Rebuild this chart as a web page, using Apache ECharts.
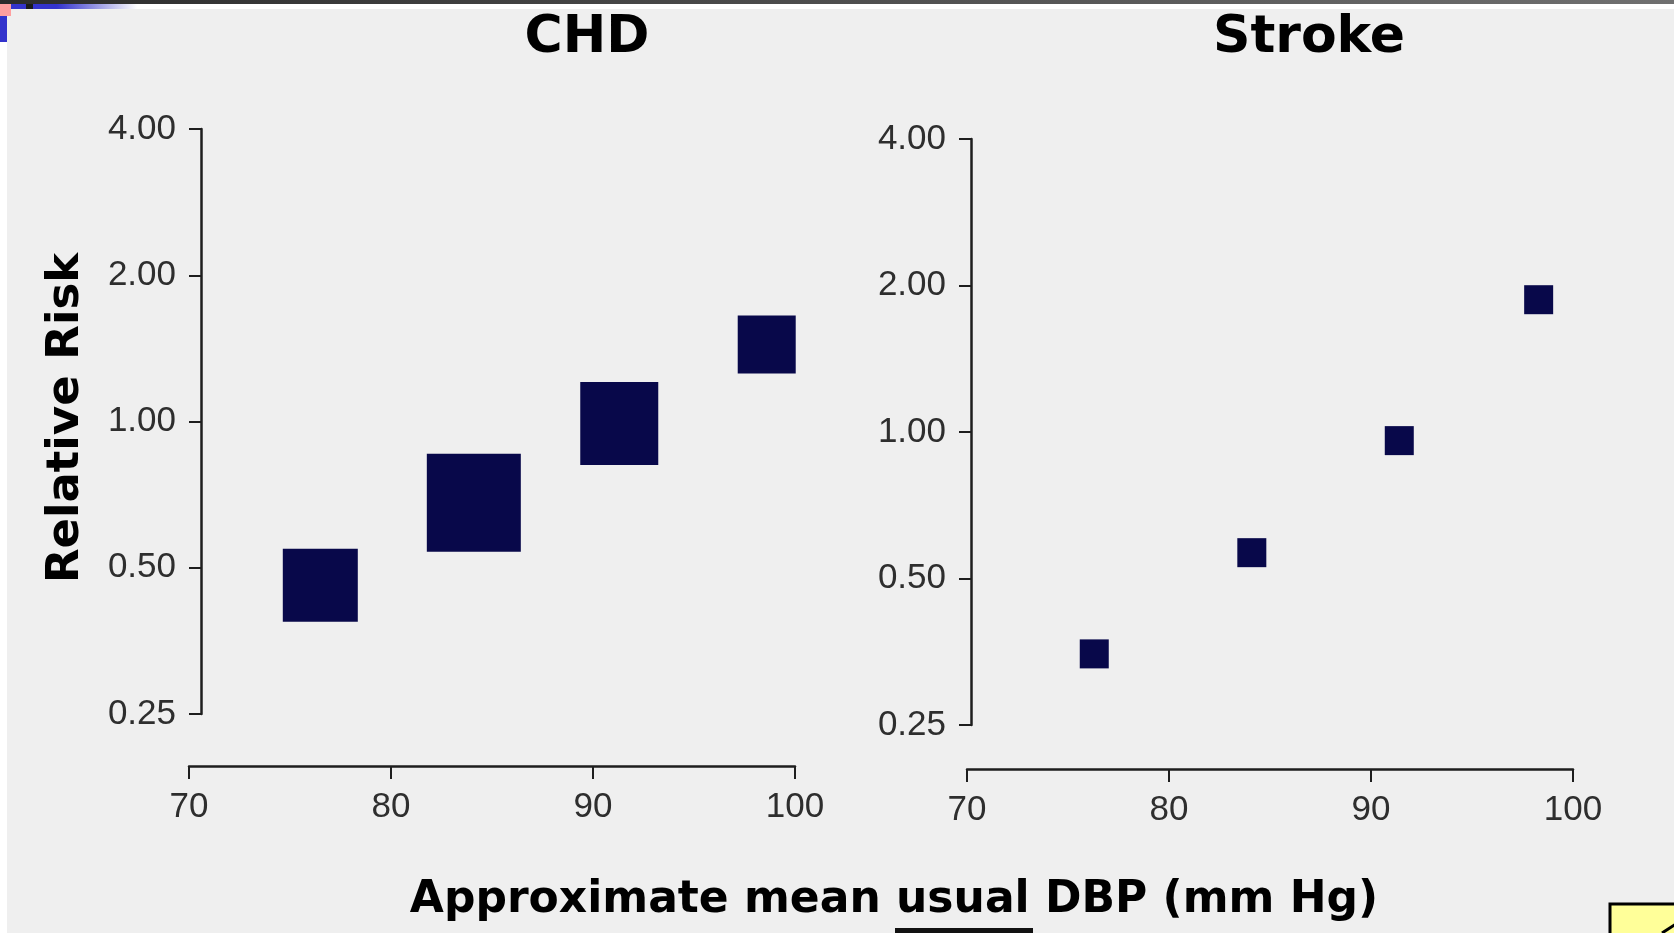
<!DOCTYPE html>
<html><head><meta charset="utf-8">
<script src="https://cdn.jsdelivr.net/npm/echarts@6/dist/echarts.min.js"></script>
<style>html,body{margin:0;padding:0;background:#fff}#c{width:1674px;height:933px}</style>
</head><body><div id="c"></div>
<script>
// ---- data ----
const xTicks = [70, 80, 90, 100];
const yTicks = [0.25, 0.5, 1, 2, 4];
const chdDBP = [76.5, 84.1, 91.3, 98.6];
const chdRR = [0.46, 0.68, 0.99, 1.44];
const strokeDBP = [76.3, 84.1, 91.4, 98.3];
const strokeRR = [0.35, 0.565, 0.96, 1.87];
const panelTitles = ['CHD', 'Stroke'];
const yName = 'Relative Risk';
const xName = 'Approximate mean usual DBP (mm Hg)';

// ---- styles ----
const chdBox = [[75, 73], [94, 98], [78, 83], [58, 58]];
const strokeBox = 29;
const markColor = '#08084a';
const axisColor = '#1e1e1e';
const labelFont = {fontFamily: '"Liberation Sans", Arial, sans-serif', fontSize: 35, color: '#2e2e2e'};

const chart = echarts.init(document.getElementById('c'), null, {renderer: 'canvas'});

function xAx(gi, off) {
  return {
    gridIndex: gi, type: 'value', min: xTicks[0], max: xTicks[xTicks.length - 1], interval: 10,
    offset: off, position: 'bottom',
    axisLine: {show: true, lineStyle: {color: axisColor, width: 2.5}},
    axisTick: {show: true, length: 13, lineStyle: {color: axisColor, width: 2}},
    axisLabel: Object.assign({margin: 24, showMinLabel: true, showMaxLabel: true,
      formatter: v => xTicks.includes(Math.round(v)) ? String(Math.round(v)) : ''}, labelFont),
    splitLine: {show: false}
  };
}
function yAx(gi, off) {
  return {
    gridIndex: gi, type: 'log', logBase: 2, min: yTicks[0], max: yTicks[yTicks.length - 1],
    offset: off, position: 'left',
    axisLine: {show: true, lineStyle: {color: axisColor, width: 2.5}},
    axisTick: {show: true, length: 12, lineStyle: {color: axisColor, width: 2}},
    axisLabel: Object.assign({margin: 25, showMinLabel: true, showMaxLabel: true,
      formatter: v => Number(v).toFixed(2)}, labelFont),
    splitLine: {show: false}, minorTick: {show: false}
  };
}

const option = {
  backgroundColor: '#efefef',
  animation: false,
  grid: [
    {left: 189, top: 129, width: 606, height: 585},
    {left: 967, top: 139, width: 606, height: 586}
  ],
  xAxis: [xAx(0, 52), xAx(1, 44)],
  yAxis: [yAx(0, -12), yAx(1, -4)],
  series: [
    {type: 'scatter', xAxisIndex: 0, yAxisIndex: 0, symbol: 'rect', clip: false,
      itemStyle: {color: markColor, opacity: 1},
      data: chdDBP.map((x, i) => ({value: [x, chdRR[i]], symbolSize: chdBox[i]}))},
    {type: 'scatter', xAxisIndex: 1, yAxisIndex: 1, symbol: 'rect', clip: false,
      symbolSize: strokeBox, itemStyle: {color: markColor, opacity: 1},
      data: strokeDBP.map((x, i) => [x, strokeRR[i]])}
  ],
  graphic: [
    // slide frame decorations
    {type: 'rect', shape: {x: 0, y: 0, width: 1674, height: 9}, style: {fill: '#ffffff'}, silent: true},
    {type: 'rect', shape: {x: 0, y: 0, width: 7, height: 933}, style: {fill: '#ffffff'}, silent: true},
    {type: 'rect', shape: {x: 0, y: 0, width: 1674, height: 4}, silent: true,
      style: {fill: new echarts.graphic.LinearGradient(0, 0, 1, 0, [{offset: 0, color: '#2c2c2c'}, {offset: 1, color: '#707070'}])}},
    {type: 'rect', shape: {x: 0, y: 4, width: 11, height: 12}, style: {fill: '#ff9f9f'}, silent: true},
    {type: 'rect', shape: {x: 0, y: 16, width: 7, height: 26}, style: {fill: '#3333cc'}, silent: true},
    {type: 'rect', shape: {x: 11, y: 4, width: 15, height: 5}, style: {fill: '#3333cc'}, silent: true},
    {type: 'rect', shape: {x: 26, y: 4, width: 7, height: 5}, style: {fill: '#1a1a1a'}, silent: true},
    {type: 'rect', shape: {x: 33, y: 4, width: 24, height: 5}, style: {fill: '#3333cc'}, silent: true},
    {type: 'rect', shape: {x: 57, y: 4, width: 80, height: 5}, silent: true,
      style: {fill: new echarts.graphic.LinearGradient(0, 0, 1, 0, [{offset: 0, color: '#3333cc'}, {offset: 1, color: '#ffffff'}])}},
    {type: 'rect', shape: {x: 1610, y: 904, width: 80, height: 60}, style: {fill: '#ffff99', stroke: '#000', lineWidth: 3}, silent: true},
    {type: 'line', shape: {x1: 1662, y1: 933, x2: 1676, y2: 924}, style: {stroke: '#000', lineWidth: 3}, silent: true},
    {type: 'rect', shape: {x: 895, y: 928, width: 138, height: 5}, style: {fill: '#111'}, silent: true},
    // texts
    {type: 'text', x: 587, y: 38, silent: true,
      style: {text: panelTitles[0], align: 'center', verticalAlign: 'middle', font: 'bold 52px "DejaVu Sans"', fill: '#000'}},
    {type: 'text', x: 1309, y: 38, silent: true,
      style: {text: panelTitles[1], align: 'center', verticalAlign: 'middle', font: 'bold 52px "DejaVu Sans"', fill: '#000'}},
    {type: 'text', x: 66, y: 418, rotation: Math.PI / 2, silent: true,
      style: {text: yName, align: 'center', verticalAlign: 'middle', font: 'bold 45px "DejaVu Sans"', fill: '#000'}},
    {type: 'text', x: 894, y: 901, silent: true,
      style: {text: xName, align: 'center', verticalAlign: 'middle', font: 'bold 44px "DejaVu Sans"', fill: '#000'}}
  ]
};
chart.setOption(option);
</script>
</body></html>
